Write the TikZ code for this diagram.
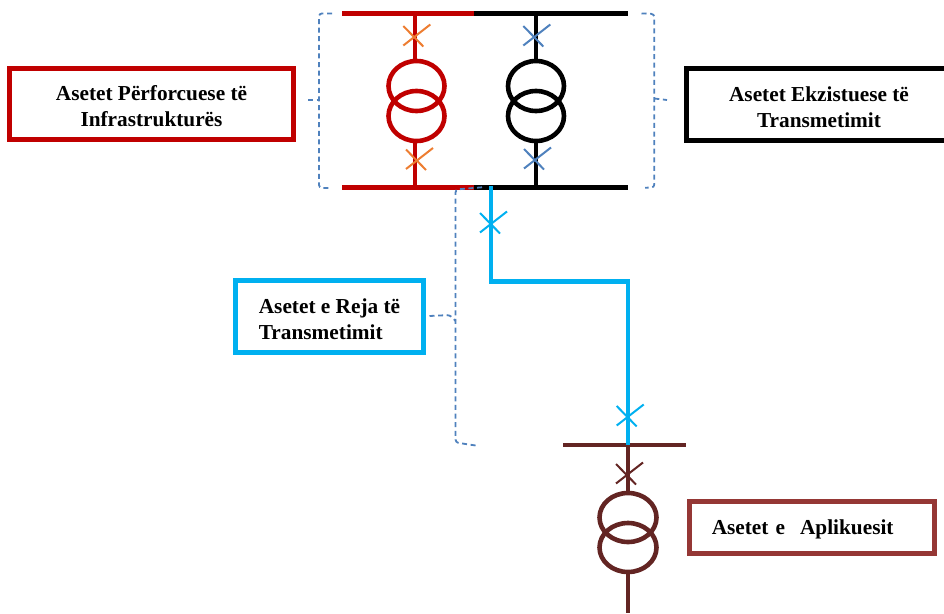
\documentclass[tikz,border=0pt]{standalone}
\usepackage{fontspec}
\usetikzlibrary{shapes.geometric}
\setmainfont{Liberation Serif}
\definecolor{cred}{HTML}{C00000}
\definecolor{cblue}{HTML}{00B0F0}
\definecolor{cbrown}{HTML}{632523}
\definecolor{cbox}{HTML}{953735}
\definecolor{corange}{HTML}{ED7D31}
\definecolor{csteel}{HTML}{4F81BD}
\tikzset{
  box/.style={draw,rectangle,line width=5pt,inner sep=0pt,outer sep=0pt,font=\bfseries\fontsize{21.3}{26}\selectfont},
  bus/.style={line width=4.7pt},
  feed/.style={line width=4.6pt},
  coil/.style={ellipse,draw,line width=4.6pt,minimum width=56pt,minimum height=50pt,inner sep=0pt,outer sep=0pt},
  brk/.style={csteel,line width=1.8pt,dash pattern=on 5pt off 3.6pt,rounded corners=3pt},
  xa/.style={line width=2pt}
}
\newcommand{\brkr}[3]{\draw[xa,#3] (#1-12,#2+9.5) -- (#1+15,#2-11.5) (#1-12,#2-10) -- (#1+8,#2+10.5);}
\newcommand{\topl}{\rule{0pt}{22.7pt}}
\newcommand{\botl}{\rule[-3.3pt]{0pt}{3.3pt}}
\begin{document}
\begin{tikzpicture}[x=1pt,y=-1pt]
\useasboundingbox (0,0) rectangle (944,613);
% labelled boxes
\node[box,draw=cred,minimum width=284pt,minimum height=71pt,align=center] (bp) at (151.5,104) {\topl Asetet Përforcuese të\\Infrastrukturës\botl};
\node[box,draw=black,minimum width=265pt,minimum height=72pt,align=center] (be) at (819,104.5) {\topl Asetet Ekzistuese të\\Transmetimit\botl};
\node[box,draw=cblue,minimum width=188pt,minimum height=72pt,align=left] (br) at (329.5,316.5) {\topl Asetet e Reja të\\Transmetimit\botl};
\node[box,draw=cbox,minimum width=245.5pt,minimum height=51.5pt,text width=200pt,align=left] (ba) at (811.75,527.25) {\rule[-4.5pt]{0pt}{24.5pt}Asetet e\hspace{15pt}Aplikuesit};
% bus coordinates
\coordinate (t0) at (342,13.4); \coordinate (tm) at (474,13.4); \coordinate (t1) at (628,13.4);
\coordinate (b0) at (342,187.6); \coordinate (bm) at (474,187.6); \coordinate (b1) at (628,187.6);
\coordinate (rt) at (415,13.4); \coordinate (rb) at (415,187.6);
\coordinate (kt) at (536,13.4); \coordinate (kb) at (536,187.6);
\coordinate (s1) at (491,186); \coordinate (s2) at (491,281.7); \coordinate (s3) at (628,281.7); \coordinate (s4) at (628,445);
\coordinate (a0) at (563,445); \coordinate (a1) at (686,445); \coordinate (a2) at (628,445); \coordinate (a3) at (628,613);
% transformers
\node[coil,draw=cred] (r1) at (416.5,86) {};
\node[coil,draw=cred] (r2) at (416.5,116) {};
\node[coil,draw=black] (k1) at (536,86) {};
\node[coil,draw=black] (k2) at (536,116) {};
\node[coil,draw=cbrown,minimum width=57pt,minimum height=49pt] (p1) at (628,517.5) {};
\node[coil,draw=cbrown,minimum width=57pt,minimum height=49pt] (p2) at (628,547.5) {};
% feeders
\draw[feed,cred] (rt) -- (r1.north -| rt);
\draw[feed,cred] (r2.south -| rb) -- (rb);
\draw[feed,black] (kt) -- (k1.north);
\draw[feed,black] (k2.south) -- (kb);
\draw[feed,cbrown] (a2) -- (p1.north);
\draw[feed,cbrown] (p2.south) -- (a3);
% buses
\draw[bus,cred] (t0) -- (tm);
\draw[bus,black] (tm) -- (t1);
\draw[bus,cred] (b0) -- (bm);
\draw[bus,black] (bm) -- (b1);
\draw[bus,cbrown] (a0) -- (a1);
% new line
\draw[line width=4.5pt,cblue,line join=miter] (s1) -- (s2) -- (s3) -- (s4);
% breakers
\brkr{415.3}{36}{corange}
\brkr{418}{159.5}{corange}
\brkr{535.3}{36}{csteel}
\brkr{536}{159}{csteel}
\brkr{492}{223}{cblue}
\brkr{628.7}{416}{cblue}
\brkr{628}{474}{cbrown}
% brackets
\coordinate (lb1) at (332,13.4); \coordinate (lb2) at (319,13.4); \coordinate (lb3) at (319,188); \coordinate (lb4) at (331,188);
\coordinate (lm) at (308,100);
\draw[brk] (lb1) -- (lb2) -- (lb3) -- (lb4);
\draw[brk] (lm) -- (319,100);
\coordinate (rb1) at (641.5,13.4); \coordinate (rb2) at (654.3,14); \coordinate (rb3) at (654.3,187.5); \coordinate (rb4) at (645,187.7);
\coordinate (rm) at (667,100);
\draw[brk] (rb1) -- (rb2) -- (rb3) -- (rb4);
\draw[brk] (654.3,98.5) -- (rm);
\coordinate (nb1) at (482,187.3); \coordinate (nb2) at (455.5,189.5); \coordinate (nb3) at (455.5,442.5); \coordinate (nb4) at (477,445.7);
\coordinate (nm) at (429.5,316);
\draw[brk] (nb1) -- (nb2) -- (nb3) -- (nb4);
\draw[brk] (nm) -- (450,315) -- (455.5,321);
\end{tikzpicture}
\end{document}
